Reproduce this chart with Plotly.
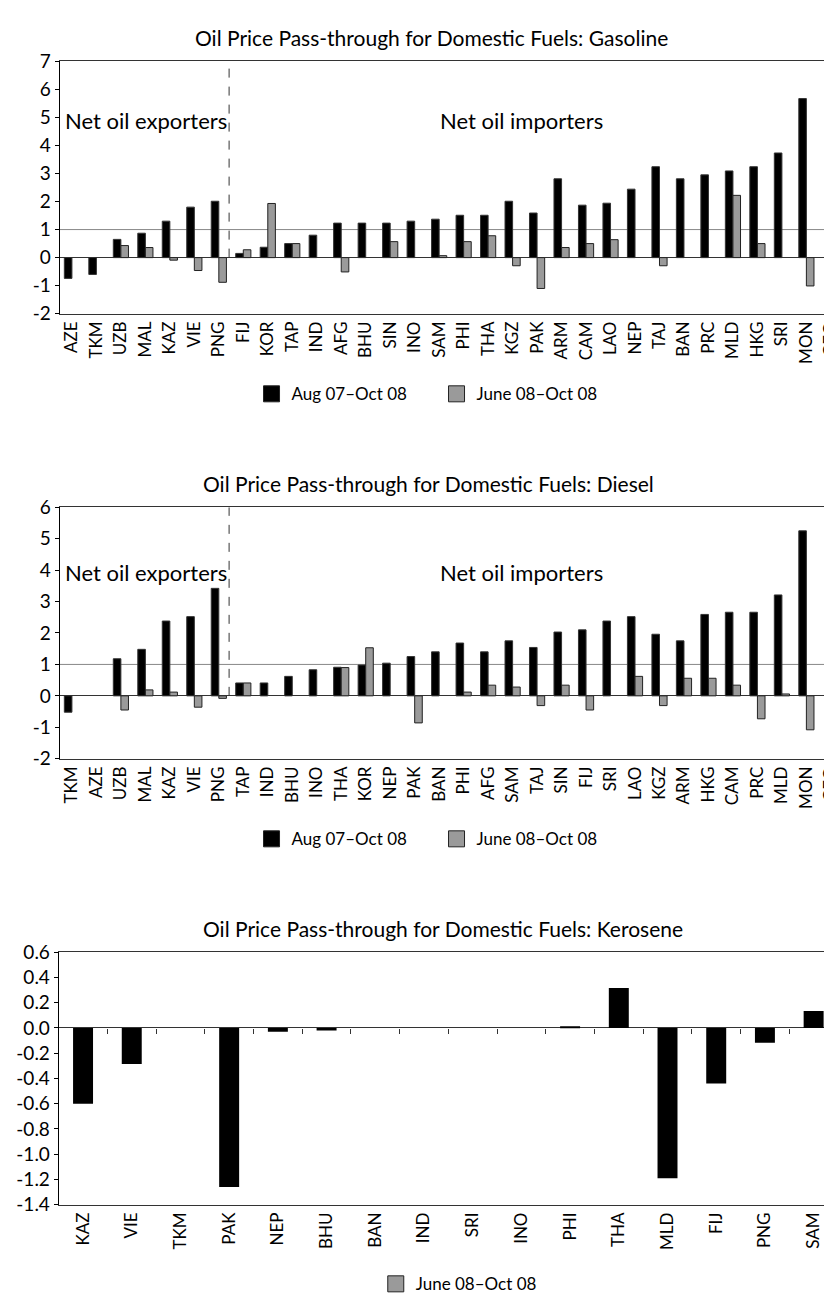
import plotly.graph_objects as go

# Gasoline
gas_countries = ["AZE", "TKM", "UZB", "MAL", "KAZ", "VIE", "PNG", "FIJ", "KOR", "TAP", "IND",
                 "AFG", "BHU", "SIN", "INO", "SAM", "PHI", "THA", "KGZ", "PAK", "ARM", "CAM",
                 "LAO", "NEP", "TAJ", "BAN", "PRC", "MLD", "HKG", "SRI", "MON", "GEO"]
gas_aug07_oct08 = [-0.74, -0.60, 0.65, 0.87, 1.30, 1.80, 2.01, 0.15, 0.37, 0.50, 0.80,
                   1.23, 1.23, 1.23, 1.30, 1.37, 1.51, 1.51, 2.01, 1.59, 2.81, 1.87,
                   1.94, 2.44, 3.24, 2.81, 2.95, 3.09, 3.24, 3.73, 5.67, None]
gas_jun08_oct08 = [None, None, 0.43, 0.36, -0.09, -0.46, -0.88, 0.28, 1.93, 0.50, None,
                   -0.51, None, 0.57, None, 0.07, 0.57, 0.78, -0.29, -1.10, 0.36, 0.50,
                   0.64, None, -0.29, None, None, 2.22, 0.50, None, -1.01, 0.42]

# Diesel
dsl_countries = ["TKM", "AZE", "UZB", "MAL", "KAZ", "VIE", "PNG", "TAP", "IND", "BHU", "INO",
                 "THA", "KOR", "NEP", "PAK", "BAN", "PHI", "AFG", "SAM", "TAJ", "SIN", "FIJ",
                 "SRI", "LAO", "KGZ", "ARM", "HKG", "CAM", "PRC", "MLD", "MON", "GEO"]
dsl_aug07_oct08 = [-0.52, None, 1.18, 1.48, 2.38, 2.52, 3.42, 0.41, 0.41, 0.62, 0.83,
                   0.91, 0.98, 1.04, 1.25, 1.40, 1.68, 1.40, 1.75, 1.54, 2.03, 2.10,
                   2.38, 2.52, 1.96, 1.75, 2.59, 2.66, 2.66, 3.21, 5.25, None]
dsl_jun08_oct08 = [None, None, -0.45, 0.19, 0.12, -0.36, -0.08, 0.41, None, None, None,
                   0.90, 1.53, None, -0.86, None, 0.12, 0.34, 0.28, -0.31, 0.34, -0.45,
                   None, 0.62, -0.31, 0.56, 0.56, 0.34, -0.73, 0.06, -1.08, 0.28]

# Kerosene
ker_countries = ["KAZ", "VIE", "TKM", "PAK", "NEP", "BHU", "BAN", "IND", "SRI", "INO",
                 "PHI", "THA", "MLD", "FIJ", "PNG", "SAM"]
ker_jun08_oct08 = [-0.60, -0.285, 0, -1.26, -0.03, -0.02, 0, 0, 0, 0,
                   0.013, 0.316, -1.19, -0.44, -0.117, 0.135]

gas_yticks = [-2, -1, 0, 1, 2, 3, 4, 5, 6, 7]
dsl_yticks = [-2, -1, 0, 1, 2, 3, 4, 5, 6]
ker_yticks = [-1.4, -1.2, -1.0, -0.8, -0.6, -0.4, -0.2, 0.0, 0.2, 0.4, 0.6]

SERIES_A = "Aug 07\u2013Oct 08"
SERIES_B = "June 08\u2013Oct 08"
TITLE = "Oil Price Pass-through for Domestic Fuels: "

W, H = 832, 1303
FONT = "Lato"
GREY = "#9a9a9a"


def py(p):
    return 1 - p / H


def legend_key(name, color, leg, ax):
    # square key in the legend only
    return go.Scatter(x=[None], y=[None], mode="markers", name=name, legend=leg,
                      marker=dict(symbol="square", size=16, color=color,
                                  line=dict(color="#222", width=1)),
                      xaxis="x" + ax, yaxis="y" + ax)


fig = go.Figure()

for n, cats, a, b, leg in [(1, gas_countries, gas_aug07_oct08, gas_jun08_oct08, "legend"),
                           (2, dsl_countries, dsl_aug07_oct08, dsl_jun08_oct08, "legend2")]:
    ax = "" if n == 1 else str(n)
    fig.add_trace(go.Bar(x=cats, y=a, name=SERIES_A, width=0.31, offset=-0.31, showlegend=False,
                         marker=dict(color="black", line=dict(color="#333", width=1)),
                         xaxis="x" + ax, yaxis="y" + ax))
    fig.add_trace(go.Bar(x=cats, y=b, name=SERIES_B, width=0.31, offset=0, showlegend=False,
                         marker=dict(color=GREY, line=dict(color="#222", width=1)),
                         xaxis="x" + ax, yaxis="y" + ax))
    fig.add_trace(legend_key(SERIES_A, "black", leg, ax))
    fig.add_trace(legend_key(SERIES_B, GREY, leg, ax))

fig.add_trace(go.Bar(x=ker_countries, y=ker_jun08_oct08, width=0.41, showlegend=False,
                     marker=dict(color="black", line=dict(width=0)),
                     xaxis="x3", yaxis="y3"))
# the source prints a grey key for this black series
fig.add_trace(legend_key(SERIES_B, GREY, "legend3", "3"))
# carrier for the category tick marks drawn on the zero line
fig.add_trace(go.Scatter(x=[None], y=[None], xaxis="x4", yaxis="y3", showlegend=False))

panels = {
    1: dict(top=42, bot=299, rng=[-2, 7], ticks=gas_yticks, fmt="{:d}", left=52, step=24.63),
    2: dict(top=496, bot=752, rng=[-2, 6], ticks=dsl_yticks, fmt="{:d}", left=52, step=24.63),
    3: dict(top=949, bot=1206, rng=[-1.4, 0.6], ticks=ker_yticks, fmt="{:.1f}", left=51, step=49),
}

layout = dict(width=W, height=H, margin=dict(l=0, r=0, t=0, b=0),
              paper_bgcolor="white", plot_bgcolor="white", barmode="overlay",
              font=dict(family=FONT, size=17, color="black"), shapes=[], annotations=[])

for n, p in panels.items():
    ax = "" if n == 1 else str(n)
    xmax = -0.5 + (W - p["left"]) / p["step"]
    layout["xaxis" + ax] = dict(domain=[p["left"] / W, 1], anchor="y" + ax, type="category",
                                range=[-0.5, xmax], tickangle=-90, showline=True, mirror=True,
                                linecolor="#333", linewidth=1, ticks="", showgrid=False,
                                tickfont=dict(size=17), fixedrange=True)
    layout["yaxis" + ax] = dict(domain=[py(p["bot"]), py(p["top"])], anchor="x" + ax,
                                range=p["rng"], tickmode="array", tickvals=p["ticks"],
                                ticktext=[p["fmt"].format(int(v) if p["fmt"] == "{:d}" else v)
                                          for v in p["ticks"]],
                                showline=True, linecolor="black", linewidth=1,
                                ticks="outside", ticklen=4, tickcolor="black",
                                showgrid=False, zeroline=True, zerolinecolor="#333",
                                zerolinewidth=1, tickfont=dict(size=19), fixedrange=True)

# zero-line tick marks for kerosene
kp = panels[3]
kdom = layout["yaxis3"]["domain"]
zero_pos = kdom[0] + (0 - kp["rng"][0]) / (kp["rng"][1] - kp["rng"][0]) * (kdom[1] - kdom[0])
layout["xaxis4"] = dict(overlaying="x3", anchor="free", position=zero_pos,
                        range=layout["xaxis3"]["range"], tickmode="array",
                        tickvals=[i + 0.5 for i in range(len(ker_countries) - 1)],
                        ticks="outside", ticklen=5, tickcolor="#333", showticklabels=False,
                        showline=False, showgrid=False, zeroline=False)

# reference line at 1 and exporter/importer divider (from zero up to the top)
for n, ax in [(1, ""), (2, "2")]:
    yr = panels[n]["rng"]
    layout["shapes"].append(dict(type="line", xref="x" + ax + " domain", yref="y" + ax,
                                 x0=0, x1=1, y0=1, y1=1, layer="below",
                                 line=dict(color="#888", width=1)))
    layout["shapes"].append(dict(type="line", xref="x" + ax, yref="y" + ax,
                                 x0=6.42, x1=6.42, y0=0, y1=yr[1],
                                 line=dict(color="#333", width=1, dash="dash")))

# titles
for text, x, y in [(TITLE + "Gasoline", 186, 18), (TITLE + "Diesel", 194, 472),
                   (TITLE + "Kerosene", 194, 925)]:
    layout["annotations"].append(dict(text=text, xref="paper", yref="paper", x=x / W, y=py(y),
                                      xanchor="left", yanchor="middle", showarrow=False,
                                      font=dict(size=21)))

for ax, ylab in [("", 4.88), ("2", 3.91)]:
    layout["annotations"].append(dict(text="Net oil exporters", xref="x" + ax, yref="y" + ax,
                                      x=-0.5, y=ylab, xanchor="left", yanchor="middle",
                                      xshift=3, showarrow=False, font=dict(size=22)))
    layout["annotations"].append(dict(text="Net oil importers", xref="x" + ax, yref="y" + ax,
                                      x=14.95, y=ylab, xanchor="left", yanchor="middle",
                                      showarrow=False, font=dict(size=22)))

leg = dict(orientation="h", xanchor="left", yanchor="middle", bgcolor="rgba(0,0,0,0)",
           font=dict(size=17), entrywidth=140, entrywidthmode="pixels", traceorder="normal")
layout["legend"] = dict(leg, x=245 / W, y=py(381))
layout["legend2"] = dict(leg, x=245 / W, y=py(834))
layout["legend3"] = dict(leg, x=370 / W, y=py(1287))

fig.update_layout(**layout)

fig.write_html("out.html")
